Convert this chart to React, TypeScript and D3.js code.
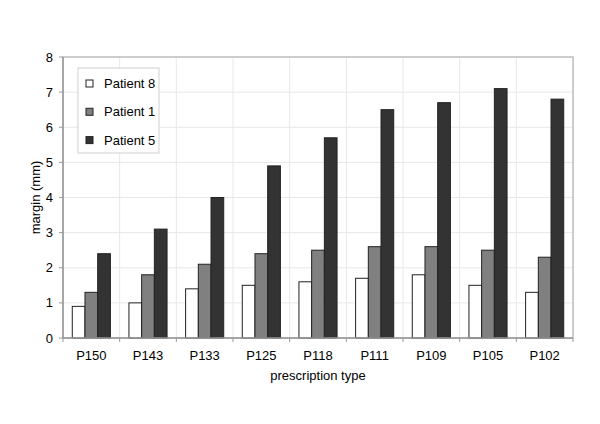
import React from "react";
import * as d3 from "d3";

const categories = ["P150", "P143", "P133", "P125", "P118", "P111", "P109", "P105", "P102"];
const seriesNames = ["Patient 8", "Patient 1", "Patient 5"];
const patient8 = [0.9, 1.0, 1.4, 1.5, 1.6, 1.7, 1.8, 1.5, 1.3];
const patient1 = [1.3, 1.8, 2.1, 2.4, 2.5, 2.6, 2.6, 2.5, 2.3];
const patient5 = [2.4, 3.1, 4.0, 4.9, 5.7, 6.5, 6.7, 7.1, 6.8];
const yTicks = [0, 1, 2, 3, 4, 5, 6, 7, 8];
const colors = ["#ffffff", "#808080", "#333333"];

export default function App() {
  const W = 600, H = 424;
  const left = 63, right = 573, top = 57, bottom = 338;
  const x = d3.scaleBand<string>().domain(categories).range([left, right]).paddingInner(0).paddingOuter(0);
  const inner = d3.scaleBand<string>().domain(seriesNames).range([0, x.bandwidth()]).paddingInner(0).paddingOuter(0.73);
  const y = d3.scaleLinear().domain([0, 8]).range([bottom, top]);
  const data = [patient8, patient1, patient5];
  const font = "'Liberation Sans', Arial, sans-serif";
  return (
    <svg width={W} height={H} style={{ position: "absolute", left: 0, top: 0, background: "#fff" }} fontFamily={font}>
      <rect x={0} y={0} width={W} height={H} fill="#fff" />
      {yTicks.map((t) => (
        <line key={"gy" + t} x1={left} x2={right} y1={y(t)} y2={y(t)} stroke="#e8e8e8" strokeWidth={1} />
      ))}
      {categories.map((c) => (
        <line key={"gx" + c} x1={(x(c) as number) + x.bandwidth()} x2={(x(c) as number) + x.bandwidth()} y1={top} y2={bottom} stroke="#e8e8e8" strokeWidth={1} />
      ))}
      <rect x={left} y={top} width={right - left} height={bottom - top} fill="none" stroke="#c0c0c0" strokeWidth={1.5} />
      {data.map((vals, s) =>
        categories.map((c, i) => {
          const bx = (x(c) as number) + (inner(seriesNames[s]) as number);
          return (
            <rect key={s + "-" + c} x={bx} y={y(vals[i])} width={inner.bandwidth()} height={bottom - y(vals[i])}
              fill={colors[s]} stroke="#222" strokeWidth={1} />
          );
        })
      )}
      <line x1={left} x2={left} y1={top} y2={bottom} stroke="#999" strokeWidth={1.5} />
      <line x1={left} x2={right} y1={bottom} y2={bottom} stroke="#999" strokeWidth={1.5} />
      {yTicks.map((t) => (
        <g key={"ty" + t}>
          <line x1={left - 4} x2={left} y1={y(t)} y2={y(t)} stroke="#999" />
          <text x={left - 10} y={y(t)} dy="0.35em" textAnchor="end" fontSize={13} fill="#000">{t}</text>
        </g>
      ))}
      {categories.map((c) => (
        <g key={"tx" + c}>
          <line x1={(x(c) as number)} x2={(x(c) as number)} y1={bottom} y2={bottom + 4} stroke="#999" />
          <text x={(x(c) as number) + x.bandwidth() / 2} y={bottom + 22} textAnchor="middle" fontSize={13} fill="#000">{c}</text>
        </g>
      ))}
      <line x1={right} x2={right} y1={bottom} y2={bottom + 4} stroke="#999" />
      <text x={(left + right) / 2} y={bottom + 42} textAnchor="middle" fontSize={13} fill="#000">prescription type</text>
      <text transform={`translate(${40},${(top + bottom) / 2}) rotate(-90)`} textAnchor="middle" fontSize={13} fill="#000">margin (mm)</text>
      <rect x={78} y={68} width={81} height={85} fill="#fff" stroke="#d0d0d0" strokeWidth={1} />
      {seriesNames.map((n, i) => (
        <g key={"lg" + n}>
          <rect x={86} y={80 + i * 28.3} width={7} height={7} fill={colors[i]} stroke="#222" strokeWidth={1} />
          <text x={104} y={83.5 + i * 28.3} dy="0.35em" fontSize={13} fill="#000">{n}</text>
        </g>
      ))}
    </svg>
  );
}
